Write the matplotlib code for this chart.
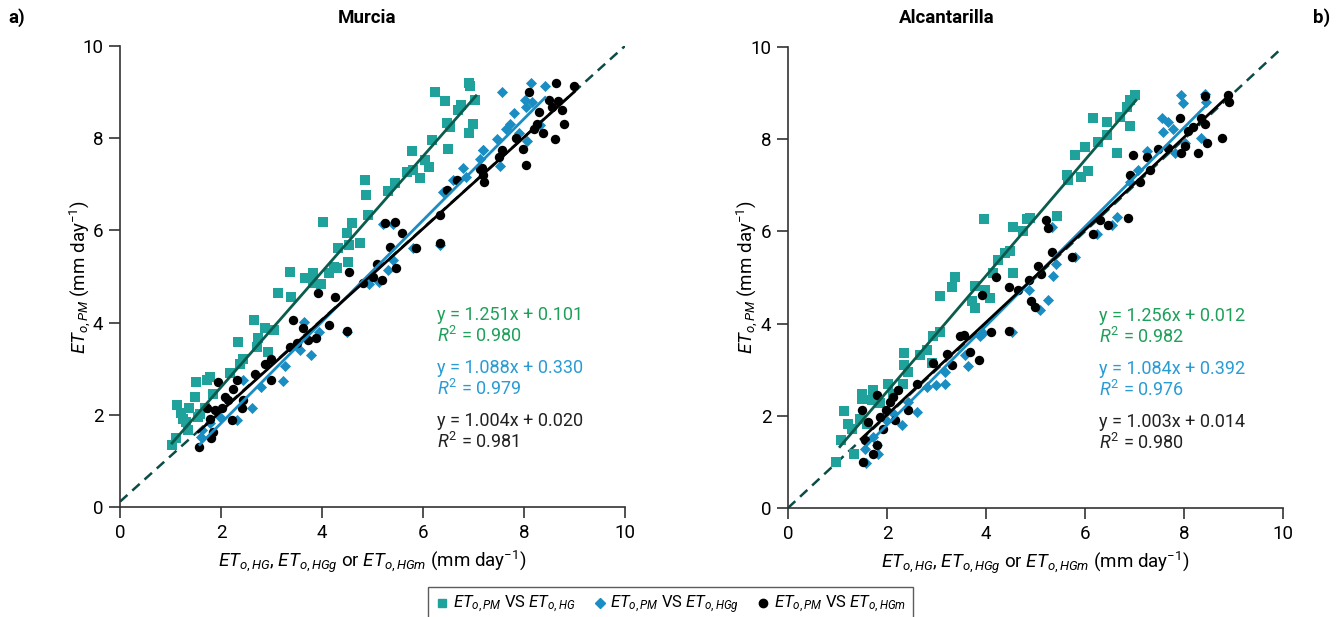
import numpy as np
import matplotlib
matplotlib.use("Agg")
import matplotlib.pyplot as plt
from matplotlib.lines import Line2D

plt.rcParams['font.family'] = ['Roboto', 'DejaVu Sans']
plt.rcParams['mathtext.fontset'] = 'custom'
plt.rcParams['mathtext.rm'] = 'Roboto'
plt.rcParams['mathtext.it'] = 'Roboto:italic'

# ---- Murcia (a) ----
mur_hg_x = [1.02, 1.11, 1.13, 1.25, 1.35, 1.37, 1.50, 1.48, 1.58, 1.72, 1.78, 1.68, 1.84, 2.18, 2.34, 2.38,
            2.44, 2.65, 2.71, 2.74, 2.87, 2.94, 3.04, 3.12, 3.37, 3.38, 3.66, 3.83, 3.83, 3.99, 4.03, 4.13,
            4.23, 4.29, 4.32, 4.49, 4.52, 4.54, 4.59, 4.75, 4.85, 4.88, 4.92, 5.31, 5.44, 5.68, 5.81, 5.79,
            5.94, 6.04, 6.11, 6.17, 6.24, 6.43, 6.47, 6.50, 6.53, 6.70, 6.76, 6.92, 6.94, 6.92, 7.00, 7.03,
            1.30, 1.55, 1.20]
mur_hg_y = [1.34, 1.50, 2.21, 1.92, 1.67, 2.14, 2.72, 2.39, 2.01, 2.75, 2.82, 2.16, 2.46, 2.90, 3.59, 3.11,
            3.22, 4.06, 3.48, 3.66, 3.88, 3.37, 3.84, 4.64, 5.10, 4.56, 4.98, 5.07, 4.87, 4.84, 6.18, 5.07,
            5.21, 5.18, 5.63, 5.95, 5.32, 5.68, 6.17, 5.72, 7.09, 6.77, 6.33, 6.86, 7.02, 7.27, 7.31, 7.73,
            7.13, 7.53, 7.38, 7.97, 9.01, 8.81, 8.34, 7.76, 8.25, 8.62, 8.72, 9.19, 9.13, 8.12, 8.31, 8.84,
            1.85, 1.95, 2.05]
mur_hgg_x = [1.60, 1.63, 1.78, 1.98, 2.31, 2.44, 2.61, 2.80, 3.22, 3.27, 3.56, 3.64, 3.79, 3.95, 4.49,
             4.94, 5.12, 5.31, 5.41, 5.20, 5.41, 5.81, 6.34, 6.40, 6.60, 6.80, 6.86, 7.13, 7.18, 7.47,
             7.52, 7.64, 7.72, 7.81, 7.57, 8.14, 8.42, 8.02, 8.15, 8.05, 7.91, 8.07, 8.32, 7.18]
mur_hgg_y = [1.53, 1.67, 1.82, 1.96, 1.89, 2.75, 2.14, 2.61, 2.74, 3.06, 3.40, 4.02, 3.30, 3.80, 3.80,
             4.85, 4.89, 5.14, 5.36, 6.15, 6.15, 5.61, 5.68, 6.84, 7.09, 7.36, 7.16, 7.56, 7.74, 7.98,
             7.40, 8.21, 8.32, 8.55, 9.01, 9.19, 9.13, 8.83, 8.79, 8.68, 8.12, 7.95, 8.29, 7.74]
mur_hgm_x = [1.57, 1.81, 1.85, 1.72, 1.78, 1.88, 1.94, 2.01, 2.08, 2.14, 2.21, 2.24, 2.31, 2.41, 2.44,
             2.67, 2.87, 3.00, 3.00, 3.37, 3.43, 3.50, 3.63, 3.73, 3.89, 3.93, 4.13, 4.26, 4.50, 4.54,
             4.82, 5.02, 5.08, 5.18, 5.25, 5.35, 5.45, 5.47, 5.58, 5.87, 6.34, 6.34, 6.48, 6.67, 7.13,
             7.20, 7.16, 7.19, 7.51, 7.56, 7.85, 7.99, 8.05, 8.11, 8.20, 8.25, 8.30, 8.37, 8.50, 8.55,
             8.61, 8.63, 8.68, 8.75, 8.80, 8.99]
mur_hgm_y = [1.31, 1.49, 1.64, 2.14, 1.92, 2.10, 2.72, 2.14, 2.39, 2.32, 1.89, 2.57, 2.75, 2.14, 2.32,
             2.89, 3.11, 3.22, 2.75, 3.48, 4.06, 3.55, 3.88, 3.63, 3.66, 4.64, 3.95, 4.56, 3.83, 5.10,
             4.87, 5.00, 5.28, 4.93, 6.17, 5.65, 6.19, 5.18, 5.95, 5.63, 6.33, 5.72, 6.87, 7.09, 7.34,
             7.05, 7.35, 7.20, 7.60, 7.74, 8.00, 7.76, 7.42, 9.01, 8.21, 8.32, 8.58, 8.12, 8.84, 8.68,
             7.98, 9.20, 8.81, 8.61, 8.32, 9.13]

# ---- Alcantarilla (b) ----
alc_hg_x = [0.98, 1.08, 1.13, 1.22, 1.29, 1.33, 1.45, 1.49, 1.49, 1.59, 1.69, 1.72, 1.86, 2.03, 2.13,
            2.33, 2.34, 2.34, 2.43, 2.67, 2.80, 2.90, 2.94, 3.07, 3.08, 3.31, 3.37, 3.71, 3.78, 3.78,
            3.98, 4.09, 3.96, 4.15, 4.25, 4.38, 4.49, 4.54, 4.55, 4.74, 4.82, 4.89, 5.43, 5.63, 5.66,
            5.80, 5.93, 6.00, 6.07, 6.17, 6.27, 6.44, 6.44, 6.65, 6.71, 6.84, 6.91, 6.92, 7.01]
alc_hg_y = [1.00, 1.47, 2.11, 1.83, 1.72, 1.18, 1.94, 2.37, 2.48, 1.83, 2.34, 2.56, 2.27, 2.70, 2.48,
            2.70, 3.10, 3.37, 2.96, 3.32, 3.43, 3.14, 3.72, 3.82, 4.60, 4.80, 5.00, 4.48, 4.82, 4.33,
            4.73, 4.55, 6.26, 5.09, 5.38, 5.53, 5.58, 5.09, 6.09, 6.00, 6.26, 6.28, 6.33, 7.22, 7.11,
            7.66, 7.19, 7.84, 7.32, 8.47, 7.94, 8.38, 8.09, 7.71, 8.49, 8.70, 8.85, 8.29, 8.96]
alc_hgg_x = [1.58, 1.56, 1.72, 1.82, 1.79, 1.99, 2.13, 2.30, 2.43, 2.60, 2.80, 3.00, 3.17, 3.17, 3.57,
             3.64, 3.87, 3.95, 4.52, 4.86, 5.09, 5.26, 5.33, 5.36, 5.41, 5.80, 6.24, 6.54, 6.64, 6.91,
             7.08, 7.25, 7.55, 7.58, 7.68, 7.78, 7.82, 7.95, 7.98, 8.02, 8.35, 8.42, 8.45]
alc_hgg_y = [0.98, 1.29, 1.54, 1.18, 1.36, 1.90, 2.05, 1.80, 2.30, 2.08, 2.63, 2.66, 2.70, 2.96, 3.32,
             3.07, 3.72, 3.80, 3.82, 4.73, 4.29, 4.51, 6.10, 5.03, 5.29, 5.45, 5.95, 6.13, 6.31, 7.08,
             7.33, 7.75, 8.45, 8.16, 8.38, 8.23, 7.69, 8.96, 8.78, 7.91, 8.02, 8.99, 8.81]
alc_hgm_x = [1.51, 1.56, 1.49, 1.62, 1.72, 1.79, 1.80, 1.86, 1.93, 1.98, 2.06, 2.13, 2.16, 2.23, 2.43,
             2.60, 2.94, 3.21, 3.31, 3.47, 3.56, 3.68, 3.85, 3.91, 4.11, 4.21, 4.47, 4.47, 4.65, 4.86,
             4.90, 4.99, 5.06, 5.12, 5.22, 5.26, 5.33, 5.73, 6.16, 6.30, 6.47, 6.87, 6.91, 6.98, 7.11,
             7.25, 7.31, 7.48, 7.68, 7.92, 7.95, 8.02, 8.09, 8.19, 8.29, 8.35, 8.42, 8.46, 8.76, 8.89,
             8.91, 8.42]
alc_hgm_y = [1.00, 1.47, 2.13, 1.87, 1.18, 1.36, 2.45, 1.98, 1.72, 2.13, 2.30, 2.41, 1.90, 2.56, 2.13,
             2.70, 3.14, 3.35, 3.10, 3.72, 3.75, 3.39, 3.21, 4.62, 3.81, 5.00, 4.79, 3.85, 4.73, 4.94,
             4.48, 4.37, 5.25, 5.07, 6.25, 6.08, 5.56, 5.44, 5.95, 6.25, 6.14, 6.30, 7.22, 7.66, 7.08,
             7.62, 7.33, 7.78, 7.80, 8.47, 7.69, 7.86, 8.18, 8.26, 7.70, 8.45, 8.34, 7.91, 8.02, 8.96,
             8.81, 8.93]

# printed regression results (slope, intercept, R2)
mur_eq = [(1.251, 0.101, 0.980), (1.088, 0.330, 0.979), (1.004, 0.020, 0.981)]
alc_eq = [(1.256, 0.012, 0.982), (1.084, 0.392, 0.976), (1.003, 0.014, 0.980)]
# drawn trend lines as they appear in the figure (slope, intercept, x start, x end)
mur_lines = [(1.251, 0.101, 1.03, 7.05), (1.10, -0.38, 1.58, 8.42), (0.99, 0.10, 1.55, 9.0)]
alc_lines = [(1.256, 0.012, 1.05, 7.03), (1.075, -0.35, 1.56, 8.49), (1.003, 0.014, 1.48, 8.93)]

sq_col = '#1fa19c'
di_col = '#1a8dc2'
ci_col = '#000000'
line_cols = ['#0b5c4c', '#1a8dc2', '#000000']
text_cols = ['#1fa05a', '#2a9cd3', '#222222']

fig = plt.figure(figsize=(13.41, 6.17), dpi=100)
axL = fig.add_axes([0.0895, 0.178, 0.3765, 0.7474])
axR = fig.add_axes([0.5876, 0.1767, 0.3691, 0.7471])

def draw(ax, hg, hgg, hgm, eqs, lines, dash_b, ylab_x):
    ax.scatter(hg[0], hg[1], marker='s', s=46, color=sq_col, linewidths=0, zorder=3)
    ax.scatter(hgg[0], hgg[1], marker='D', s=32, color=di_col, linewidths=0, zorder=4)
    ax.scatter(hgm[0], hgm[1], marker='o', s=46, color=ci_col, linewidths=0, zorder=5)
    xs = np.array([0, 10])
    ax.plot(xs, xs * (10 - dash_b) / 10 + dash_b, ls=(0, (4, 2.6)), color='#0b4c46', lw=1.8, zorder=2)
    for (m, b, x0, x1), lc in zip(lines, line_cols):
        xx = np.array([x0, x1])
        ax.plot(xx, m * xx + b, color=lc, lw=2, zorder=6)
    for i, ((m, b, r2), tc) in enumerate(zip(eqs, text_cols)):
        y0 = 4.17 - i * 1.15
        ax.text(6.28, y0, 'y = %.3fx + %.3f' % (m, b), color=tc, fontsize=13, va='center')
        ax.text(6.28, y0 - 0.45, r'$\mathit{R}^2$ = %.3f' % r2, color=tc, fontsize=13, va='center')
    ax.set_xlim(0, 10)
    ax.set_ylim(0, 10)
    ax.set_xticks(range(0, 11, 2))
    ax.set_yticks(range(0, 11, 2))
    for s in ['top', 'right']:
        ax.spines[s].set_visible(False)
    for s in ['left', 'bottom']:
        ax.spines[s].set_color('#333333')
        ax.spines[s].set_linewidth(1.2)
    ax.tick_params(direction='out', length=8, width=1.2, labelsize=13.5, color='#333333', pad=4)
    ax.set_xlabel(r'$\mathit{ET}_{\mathit{o,HG}}$, $\mathit{ET}_{\mathit{o,HGg}}$ or $\mathit{ET}_{\mathit{o,HGm}}$ (mm day$^{-1}$)',
                  fontsize=13.5, labelpad=5)
    ax.set_ylabel(r'$\mathit{ET}_{\mathit{o,PM}}$ (mm day$^{-1}$)', fontsize=13.5)
    ax.yaxis.set_label_coords(ylab_x, 0.5)

draw(axL, (mur_hg_x, mur_hg_y), (mur_hgg_x, mur_hgg_y), (mur_hgm_x, mur_hgm_y), mur_eq, mur_lines, 0.12, -0.054)
draw(axR, (alc_hg_x, alc_hg_y), (alc_hgg_x, alc_hgg_y), (alc_hgm_x, alc_hgm_y), alc_eq, alc_lines, 0.0, -0.056)

fig.text(0.274, 0.971, 'Murcia', fontsize=13.5, fontweight='bold', ha='center', va='center')
fig.text(0.706, 0.971, 'Alcantarilla', fontsize=13.5, fontweight='bold', ha='center', va='center')
fig.text(0.006, 0.971, 'a)', fontsize=13.5, fontweight='bold', va='center')
fig.text(0.979, 0.971, 'b)', fontsize=13.5, fontweight='bold', va='center')

handles = [Line2D([], [], marker='s', ls='', color=sq_col, markersize=5.5),
           Line2D([], [], marker='D', ls='', color=di_col, markersize=5),
           Line2D([], [], marker='o', ls='', color=ci_col, markersize=6)]
labels = [r'$\mathit{ET}_{\mathit{o,PM}}$ VS $\mathit{ET}_{\mathit{o,HG}}$',
          r'$\mathit{ET}_{\mathit{o,PM}}$ VS $\mathit{ET}_{\mathit{o,HGg}}$',
          r'$\mathit{ET}_{\mathit{o,PM}}$ VS $\mathit{ET}_{\mathit{o,HGm}}$']
leg = fig.legend(handles, labels, loc='upper center', bbox_to_anchor=(0.5, 0.049), ncol=3, fontsize=12,
                 frameon=True, fancybox=False, edgecolor='#333333', handletextpad=0.2, columnspacing=1.0,
                 handlelength=0.9, borderpad=0.4, borderaxespad=0)
leg.get_frame().set_linewidth(1.0)

fig.savefig('out.png', dpi=100)
